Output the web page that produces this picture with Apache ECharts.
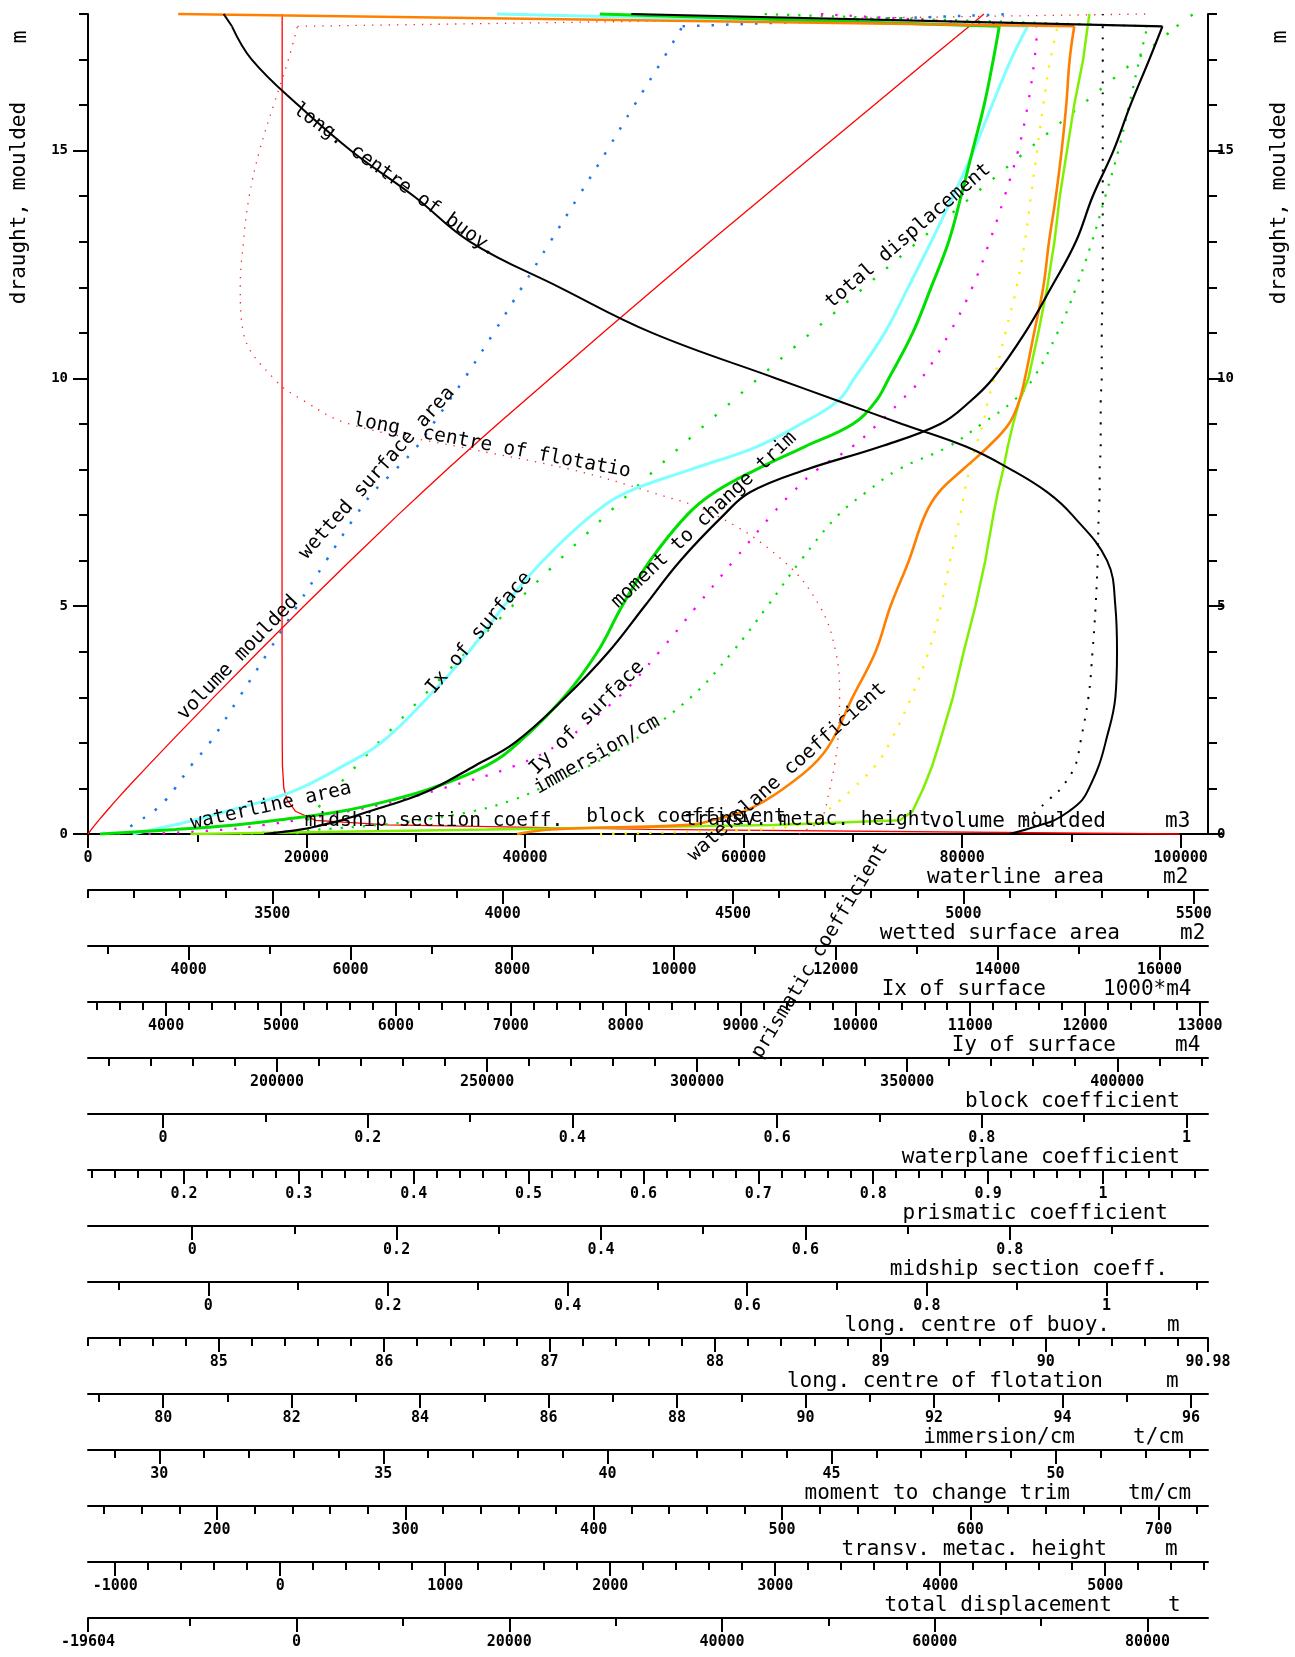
<!DOCTYPE html>
<html>
<head>
<meta charset="utf-8">
<script src="https://cdn.jsdelivr.net/npm/echarts@6/dist/echarts.min.js"></script>
<style>
html, body { margin: 0; padding: 0; background: #fff; }
#chart { width: 1295px; height: 1657px; }
</style>
</head>
<body>
<div id="chart"></div>
<script>
// draught, moulded (m) - every curve is read at these draughts
const draught = [0, 0.1, 0.2, 0.3, 0.5, 0.75, 1, 1.5, 2, 3, 4, 5, 6, 7, 7.5, 8, 8.5, 9, 9.5, 10, 11, 12, 13, 14, 15, 16, 17, 17.73, 18];

const volumeMoulded = [0, 315, 640, 980, 1690, 2600, 3540, 5500, 7480, 11500, 15600, 19750, 24000, 28350, 30600, 32850, 35150, 37500, 39900, 42300, 47100, 52000, 56900, 61900, 66900, 71950, 76950, 80650, 82000];
const waterlineArea = [3126, 3290, 3420, 3510, 3650, 3760, 3845, 3965, 4034, 4133, 4206, 4259, 4320, 4400, 4460, 4550, 4655, 4760, 4810, 4838, 4890, 4930, 4968, 4995, 5020, 5045, 5065, 5078, 4211];
const wettedSurface = [3127, 3220, 3310, 3400, 3570, 3718, 3830, 4030, 4260, 4625, 4985, 5340, 5700, 6070, 6280, 6560, 6820, 7020, 7215, 7410, 7770, 8120, 8470, 8820, 9170, 9510, 9860, 10105, 14200];
const ixSurface = [3709, 3890, 4070, 4240, 4530, 4885, 5165, 5545, 5870, 6280, 6635, 6940, 7280, 7705, 8010, 8565, 9140, 9525, 9845, 9990, 10255, 10460, 10660, 10850, 11030, 11190, 11355, 11500, 6880];
const iySurface = [169400, 188000, 197100, 204400, 217100, 229400, 239400, 256700, 267500, 281200, 291000, 299900, 308700, 317700, 322700, 328600, 336900, 343000, 348400, 353400, 360100, 365500, 369600, 373200, 376400, 378700, 380300, 381000, 329000];
const blockCoef = [0.427, 0.583, 0.622, 0.634, 0.648, 0.662, 0.674, 0.696, 0.710, 0.731, 0.748, 0.760, 0.769, 0.779, 0.783, 0.788, 0.794, 0.801, 0.806, 0.812, 0.823, 0.834, 0.842, 0.848, 0.854, 0.860, 0.867, 0.874, 0.875];
const waterplaneCoef = [0.49, 0.52, 0.64, 0.66, 0.688, 0.707, 0.722, 0.747, 0.763, 0.782, 0.802, 0.815, 0.831, 0.845, 0.857, 0.878, 0.900, 0.918, 0.927, 0.932, 0.940, 0.948, 0.953, 0.959, 0.964, 0.968, 0.971, 0.975, 0.195];
const prismaticCoef = [null, null, null, 0.815, 0.826, 0.838, 0.850, 0.864, 0.869, 0.877, 0.881, 0.884, 0.886, 0.887, 0.888, 0.888, 0.889, 0.889, 0.889, 0.890, 0.890, 0.891, 0.891, 0.891, 0.891, 0.891, 0.891, 0.891, 0.891];
const midshipCoef = [-0.02, 0.31, 0.63, 0.770, 0.784, 0.790, 0.796, 0.806, 0.814, 0.829, 0.841, 0.854, 0.865, 0.874, 0.879, 0.885, 0.890, 0.896, 0.903, 0.913, 0.924, 0.934, 0.942, 0.948, 0.956, 0.964, 0.974, 0.979, 0.981];
const lcb = [89.78, 89.88, 89.97, 90.05, 90.14, 90.22, 90.26, 90.32, 90.36, 90.42, 90.43, 90.42, 90.37, 90.16, 90.01, 89.79, 89.52, 89.13, 88.75, 88.37, 87.62, 87.06, 86.52, 86.18, 85.8, 85.48, 85.2, 85.08, 85.03];
const lcf = [89.9, 90.02, 90.15, 90.22, 90.30, 90.34, 90.38, 90.45, 90.50, 90.53, 90.47, 90.22, 89.65, 88.6, 87.6, 86.35, 84.6, 82.9, 82.2, 81.72, 81.25, 81.2, 81.25, 81.34, 81.5, 81.72, 81.95, 82.09, 95.3];
const immersion = [31.8, 33.6, 34.9, 35.8, 37.0, 37.9, 38.5, 39.6, 40.5, 41.86, 42.79, 43.57, 44.31, 45.15, 45.77, 46.49, 47.6, 48.35, 49.05, 49.5, 50.04, 50.46, 50.81, 51.11, 51.40, 51.64, 51.87, 52.05, 43.4];
const mct = [225, 245, 256, 266, 281, 300, 315, 337, 358, 385, 408, 427, 446, 469, 483, 513, 552, 584, 600, 612, 629, 643, 656, 665, 676, 685, 695, 702, 420];
const transvMetacHeight = [5450, 2240, 650, 215, 92, 42, 22, 13.5, 12.2, 11.5, 11.2, 11.0, 10.9, 10.8, 10.8, 10.8, 10.9, 11.0, 11.1, 11.1, 11.2, 11.3, 11.4, 11.5, 11.6, 11.7, 11.8, 11.9, 12.0];
const totalDisplacement = [0, 325, 655, 1005, 1735, 2670, 3630, 5645, 7680, 11800, 16010, 20270, 24630, 29100, 31400, 33720, 36080, 38480, 40950, 43400, 48350, 53370, 58400, 63520, 68650, 73800, 78950, 82740, 84300];

// draught axis ticks
const draughtLabels = [0, 5, 10, 15];

function steps(a, b, s) {
  const out = [];
  const n = Math.round((b - a) / s);
  for (let i = 0; i <= n; i++) out.push(Math.round((a + i * s) * 1e6) / 1e6);
  return out;
}

// one scale per row under the plot, row 0 is the plot's own x axis
const axisSpecs = [
  { title: 'volume moulded', unit: 'm3', min: 0, max: 102500, major: steps(0, 100000, 20000), minor: steps(0, 100000, 10000), nameRight: 1106, unitLeft: 1165 },
  { title: 'waterline area', unit: 'm2', min: 3100, max: 5531, major: steps(3500, 5500, 500), minor: steps(3100, 5500, 100), nameRight: 1104, unitLeft: 1163 },
  { title: 'wetted surface area', unit: 'm2', min: 2756, max: 16600, major: steps(4000, 16000, 2000), minor: steps(3000, 16000, 1000), nameRight: 1120, unitLeft: 1180 },
  { title: 'Ix of surface', unit: '1000*m4', min: 3320, max: 13070, major: steps(4000, 13000, 1000), minor: steps(3400, 13000, 200), nameRight: 1046, unitLeft: 1103 },
  { title: 'Iy of surface', unit: 'm4', min: 155000, max: 421600, major: steps(200000, 400000, 50000), minor: steps(160000, 420000, 10000), nameRight: 1116, unitLeft: 1175 },
  { title: 'block coefficient', unit: '', min: -0.0733, max: 1.021, major: steps(0, 1, 0.2), minor: steps(0, 1, 0.1), nameRight: 1180 },
  { title: 'waterplane coefficient', unit: '', min: 0.1165, max: 1.0914, major: steps(0.2, 1, 0.1), minor: steps(0.12, 1.08, 0.02), nameRight: 1180 },
  { title: 'prismatic coefficient', unit: '', min: -0.102, max: 0.994, major: steps(0, 0.8, 0.2), minor: steps(0, 0.9, 0.1), nameRight: 1168 },
  { title: 'midship section coeff.', unit: '', min: -0.134, max: 1.113, major: steps(0, 1, 0.2), minor: steps(-0.1, 1.1, 0.1), nameRight: 1168 },
  { title: 'long. centre of buoy.', unit: 'm', min: 84.21, max: 90.98, major: steps(85, 90, 1).concat([90.98]), minor: [84.21].concat(steps(84.4, 90.8, 0.2)), nameRight: 1110, unitLeft: 1167 },
  { title: 'long. centre of flotation', unit: 'm', min: 78.83, max: 96.265, major: steps(80, 96, 2), minor: steps(79, 96, 1), nameRight: 1103, unitLeft: 1166 },
  { title: 'immersion/cm', unit: 't/cm', min: 28.41, max: 53.4, major: steps(30, 50, 5), minor: steps(29, 53, 1), nameRight: 1075, unitLeft: 1133 },
  { title: 'moment to change trim', unit: 'tm/cm', min: 131.5, max: 726.2, major: steps(200, 700, 100), minor: steps(140, 720, 20), nameRight: 1070, unitLeft: 1128 },
  { title: 'transv. metac. height', unit: 'm', min: -1165, max: 5623, major: steps(-1000, 5000, 1000), minor: steps(-1000, 5600, 200), nameRight: 1107, unitLeft: 1165 },
  { title: 'total displacement', unit: 't', min: -19604, max: 85684, major: [-19604].concat(steps(0, 80000, 20000)), minor: steps(-10000, 80000, 10000), nameRight: 1112, unitLeft: 1168 }
];

// curve -> row of its scale
const curves = [
  { vals: transvMetacHeight, axis: 13, color: '#ff0000', width: 1.3 },
  { vals: volumeMoulded, axis: 0, color: '#ff0000', width: 1.3 },
  { vals: lcf, axis: 10, color: '#ff2020', width: 1.3, dash: [1.3, 7], smooth: 0.4 },
  { vals: wettedSurface, axis: 2, color: '#1e78e6', width: 2.5, dash: [2.5, 12], smooth: 0.4 },
  { vals: totalDisplacement, axis: 14, color: '#00e000', width: 2.4, dash: [2.4, 15] },
  { vals: immersion, axis: 11, color: '#00e000', width: 2.2, dash: [2.2, 9], smooth: 0.4 },
  { vals: iySurface, axis: 4, color: '#ff00ff', width: 2.3, dash: [2.3, 12], smooth: 0.4 },
  { vals: blockCoef, axis: 5, color: '#ffee00', width: 2.3, dash: [2.3, 10], smooth: 0.4 },
  { vals: prismaticCoef, axis: 7, color: '#000000', width: 2, dash: [2, 9], smooth: 0.4 },
  { vals: ixSurface, axis: 3, color: '#80ffff', width: 3, smooth: 0.4 },
  { vals: waterlineArea, axis: 1, color: '#00e000', width: 3, smooth: 0.4 },
  { vals: midshipCoef, axis: 8, color: '#80f000', width: 2.5 },
  { vals: waterplaneCoef, axis: 6, color: '#ff8000', width: 2.6, smooth: 0.4 },
  { vals: mct, axis: 12, color: '#000000', width: 2.2, smooth: 0.4 },
  { vals: lcb, axis: 9, color: '#000000', width: 2, smooth: 0.4 }
];

// texts written along the curves: text, x, y, angle (deg)
const curveLabels = [
  ['long. centre of buoy.', 395, 180, -36],
  ['long. centre of flotatio', 492, 446, -10.6],
  ['wetted surface area', 377, 473, 48.3],
  ['volume moulded', 238, 658, 46],
  ['Ix of surface', 479, 633, 50],
  ['moment to change trim', 704, 520, 43.4],
  ['total displacement', 908, 236, 40.8],
  ['Iy of surface', 587, 718, 44.8],
  ['immersion/cm', 597, 755, 29.5],
  ['waterline area', 271, 806, 12.6],
  ['waterplane coefficient', 787, 772, 41.7],
  ['prismatic coefficient', 820, 951, 59],
  ['midship section coeff.', 434, 821, 0],
  ['block coefficient', 686, 817, 0],
  ['transv. metac. height', 808, 820, 0]
];

const FONT = '"DejaVu Sans Mono", "Liberation Mono", monospace';
const ROW = 56;
const fmt = v => String(Math.round(v * 1e6) / 1e6);

const xAxes = [];
axisSpecs.forEach((a, k) => {
  const common = { type: 'value', gridIndex: 0, position: 'bottom', offset: ROW * k, min: a.min, max: a.max, splitLine: { show: false } };
  xAxes.push(Object.assign({}, common, {
    axisLine: { show: true, onZero: false, lineStyle: { color: '#000', width: 2 } },
    axisTick: { show: true, customValues: a.major, length: 14, lineStyle: { color: '#000', width: 2 } },
    axisLabel: { show: true, customValues: a.major, margin: 17, formatter: fmt, color: '#000', fontFamily: FONT, fontSize: 15, fontWeight: 'bold' }
  }));
  xAxes.push(Object.assign({}, common, {
    axisLine: { show: false, onZero: false },
    axisTick: { show: true, customValues: a.minor, length: 8, lineStyle: { color: '#000', width: 2 } },
    axisLabel: { show: false }
  }));
});

const yAxes = ['left', 'right'].flatMap(pos => [
  {
    type: 'value', position: pos, min: 0, max: 18, splitLine: { show: false },
    axisLine: { show: true, onZero: false, lineStyle: { color: '#000', width: 2 } },
    axisTick: { show: true, customValues: draughtLabels, length: 15, lineStyle: { color: '#000', width: 2 } },
    axisLabel: { show: true, customValues: draughtLabels, margin: pos === 'left' ? 20 : 9, color: '#000', fontFamily: FONT, fontSize: 14, fontWeight: 'bold' }
  },
  {
    type: 'value', position: pos, min: 0, max: 18, splitLine: { show: false },
    axisLine: { show: false, onZero: false },
    axisTick: { show: true, customValues: steps(0, 18, 1), length: 9, lineStyle: { color: '#000', width: 2 } },
    axisLabel: { show: false }
  }
]);

const series = [];
curves.forEach(c => {
  const pts = draught.map((t, i) => [c.vals[i], t]).filter(p => p[0] !== null);
  const style = { color: c.color, width: c.width, type: c.dash || 'solid', cap: 'butt' };
  const base = { type: 'line', xAxisIndex: c.axis * 2, yAxisIndex: 0, showSymbol: false, symbol: 'none', clip: false, silent: true, lineStyle: style, itemStyle: { color: c.color } };
  // the top step (17.73 m -> 18 m) is drawn straight
  series.push(Object.assign({}, base, { data: pts.slice(0, pts.length - 1), smooth: c.smooth || false }));
  series.push(Object.assign({}, base, { data: pts.slice(pts.length - 2), smooth: false }));
});

const graphics = [];
const txt = (text, x, y, deg, size, align) => ({
  type: 'text', x: x, y: y, z: 100, rotation: deg * Math.PI / 180, silent: true,
  style: { text: text, font: size + 'px ' + FONT, fill: '#000', align: align, textAlign: align, verticalAlign: 'middle', textVerticalAlign: 'middle' }
});
axisSpecs.forEach((a, k) => {
  const y = 834 + ROW * k - 12;
  graphics.push(txt(a.title, a.nameRight, y, 0, 21, 'right'));
  if (a.unit) graphics.push(txt(a.unit, a.unitLeft, y, 0, 21, 'left'));
});
curveLabels.forEach(l => graphics.push(txt(l[0], l[1], l[2], l[3], 19.5, 'center')));
[20, 1280].forEach(x => {
  graphics.push(txt('draught, moulded', x, 203, 90, 21, 'center'));
  graphics.push(txt('m', x + 1, 37, 90, 21, 'center'));
});

const chart = echarts.init(document.getElementById('chart'), null, { renderer: 'canvas' });
chart.setOption({
  animation: false,
  backgroundColor: '#ffffff',
  grid: { left: 88, right: 87, top: 14, bottom: 823, containLabel: false, outerBoundsMode: 'none' },
  xAxis: xAxes,
  yAxis: yAxes,
  series: series,
  graphic: { elements: graphics }
});
</script>
</body>
</html>
